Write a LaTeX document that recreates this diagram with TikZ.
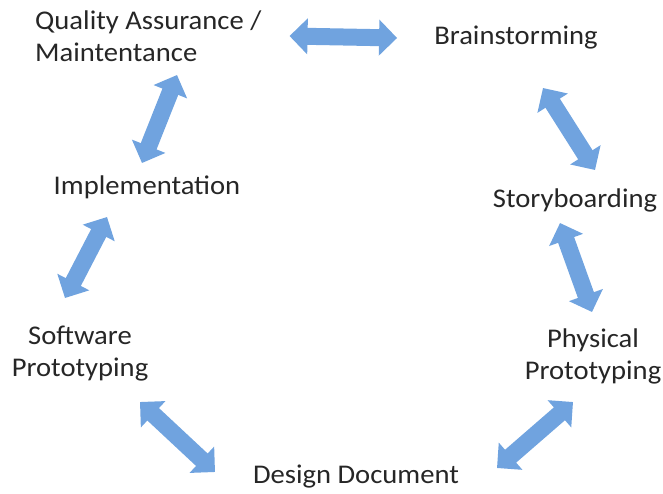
\documentclass[tikz,border=0pt]{standalone}
\usepackage{fontspec}
\setmainfont{Carlito}[FakeStretch = 1.06]
\usetikzlibrary{arrows.meta}
\usetikzlibrary{positioning}
\definecolor{arrowblue}{RGB}{112,163,223}
\definecolor{textgray}{RGB}{38,38,38}
\tikzset{stage/.style = {inner sep = 0, text = textgray, font = \fontsize{27}{32}\selectfont, align = center},
  link/.style = {draw = arrowblue, line width = 17pt,
    {Triangle[length = 18pt, width = 35pt]}-{Triangle[length = 18pt, width = 35pt]}}}

\begin{document}
\begin{tikzpicture}[x = 1pt, y = -1pt]
      \useasboundingbox (0, 0) rectangle (663, 493);
      \node [stage, align = left, anchor = west] (qa) at (35, 36) {Quality Assurance /\\Maintentance};
      \node [stage] (brain) at (516, 38) {Brainstorming};
      \node [stage] (story) at (575, 200) {Storyboarding};
      \node [stage] (phys) at (593, 356) {Physical\\Prototyping};
      \node [stage] (design) at (356, 477) {Design Document};
      \node [stage] (sw) at (80, 354) {Software\\Prototyping};
      \node [stage] (impl) at (147, 187) {Implementation};
      \draw [link] ([xshift = 28pt] qa.east) -- ([xshift = -37pt] brain.west);
      \draw [link] ([shift = {(27, 50)}] brain.center) -- ([shift = {(20, -30)}] story.center);
      \draw [link] ([shift = {(-15, 23)}] story.center) -- ([shift = {(-1, -44)}] phys.center);
      \draw [link] ([shift = {(-20, 46)}] phys.center) -- ([shift = {(141, -9)}] design.center);
      \draw [link] ([shift = {(-141, -5)}] design.center) -- ([shift = {(60, 48)}] sw.center);
      \draw [link] ([shift = {(-15, -56)}] sw.center) -- ([shift = {(-40, 30)}] impl.center);
      \draw [link] ([shift = {(-5, -24)}] impl.center) -- ([shift = {(142, 39)}] qa.west);
    \end{tikzpicture}
\end{document}
